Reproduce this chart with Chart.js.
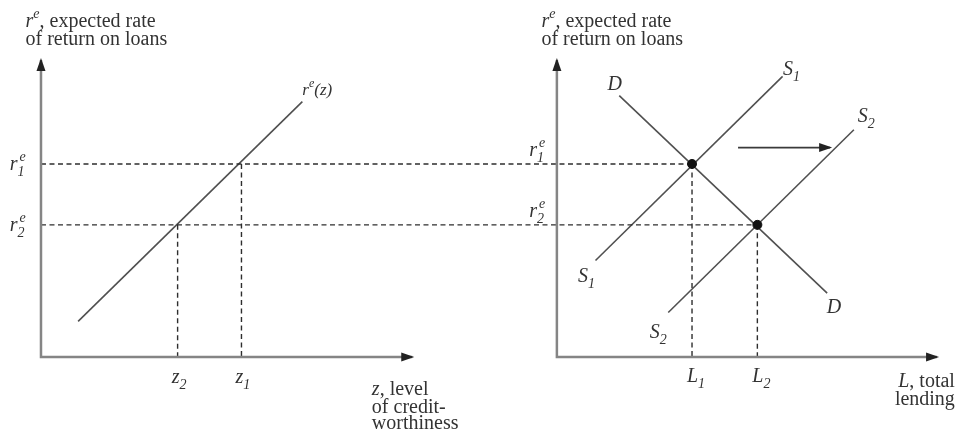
<!DOCTYPE html>
<html>
<head>
<meta charset="utf-8">
<script src="https://cdn.jsdelivr.net/npm/chart.js@4/dist/chart.umd.min.js"></script>
<style>
  html, body { margin: 0; padding: 0; background: #fff; }
</style>
</head>
<body>
<canvas id="diagram" width="962" height="436"></canvas>
<script>
// levels (diagram units, origin at each panel's corner)
const rLevels = [6.5, 4.45];   // r1e, r2e
const zLevels = [6.75, 4.6];   // z1, z2
const lLevels = [4.55, 6.75];  // L1, L2

// curve end points [x, y]
const reCurve = [[1.25, 1.2], [8.8, 8.6]];
const demandCurve = [[2.1, 8.8], [9.1, 2.15]];
const supply1Curve = [[1.3, 3.25], [7.6, 9.45]];
const supply2Curve = [[3.75, 1.5], [10.0, 7.65]];
const shiftArrow = [[6.1, 7.05], [9.2, 7.05]];

const axisTop = 10;
const leftAxisEnd = 12.5;
const rightAxisEnd = 12.8;

// second panel sits to the right on the same scale
const RIGHT_X = 17.37;

const AXIS = '#858585';
const CURVE = '#505050';
const DASH = '#2e2e2e';
const TEXT = '#333';

const L = (p) => ({ x: p[0], y: p[1] });
const R = (p) => ({ x: p[0] + RIGHT_X, y: p[1] });

function line(points, color, width, extra) {
    return Object.assign({
        data: points,
        borderColor: color,
        backgroundColor: color,
        borderWidth: width,
        showLine: true,
        pointRadius: 0,
        fill: false,
        tension: 0
    }, extra || {});
}

const datasets = [
    // axes
    line([{x: 0, y: axisTop}, {x: 0, y: 0}, {x: leftAxisEnd, y: 0}], AXIS, 2.5, {arrowStart: true, arrowEnd: true}),
    line([R([0, axisTop]), R([0, 0]), R([rightAxisEnd, 0])], AXIS, 2.5, {arrowStart: true, arrowEnd: true}),
    // dashed guides, running across both panels
    line([{x: 0, y: rLevels[0]}, R([lLevels[0], rLevels[0]])], DASH, 1.4, {borderDash: [5, 3.5]}),
    line([{x: 0, y: rLevels[1]}, R([lLevels[1], rLevels[1]])], DASH, 1.4, {borderDash: [5, 3.5]}),
    line([L([zLevels[0], rLevels[0]]), L([zLevels[0], 0])], DASH, 1.4, {borderDash: [5, 3.5]}),
    line([L([zLevels[1], rLevels[1]]), L([zLevels[1], 0])], DASH, 1.4, {borderDash: [5, 3.5]}),
    line([R([lLevels[0], rLevels[0]]), R([lLevels[0], 0])], DASH, 1.4, {borderDash: [5, 3.5]}),
    line([R([lLevels[1], rLevels[1]]), R([lLevels[1], 0])], DASH, 1.4, {borderDash: [5, 3.5]}),
    // curves
    line(reCurve.map(L), CURVE, 1.6),
    line(demandCurve.map(R), CURVE, 1.6),
    line(supply1Curve.map(R), CURVE, 1.6),
    line(supply2Curve.map(R), CURVE, 1.6),
    line(shiftArrow.map(R), '#3a3a3a', 1.8, {arrowEnd: true}),
    // equilibria
    {
        data: [R([lLevels[0], rLevels[0]]), R([lLevels[1], rLevels[1]])],
        showLine: false,
        pointRadius: 4.5,
        pointBackgroundColor: '#111',
        pointBorderColor: '#111',
        order: -1
    }
];

function font(size, italic) {
    return (italic ? 'italic ' : '') + size + 'px "Liberation Serif", "DejaVu Serif", serif';
}

// runs: {t, it, sub, sup, over}
function drawRich(ctx, x, y, runs, size, align) {
    const parts = [];
    let cursor = 0, total = 0, prevStart = 0;
    runs.forEach(r => {
        const sz = (r.sub || r.sup) ? Math.round(size * 0.68) : size;
        ctx.font = font(sz, r.it);
        const w = ctx.measureText(r.t).width;
        const start = r.over ? prevStart + 2 : cursor;
        const dy = r.sub ? size * 0.3 : (r.sup ? -size * 0.45 : 0);
        parts.push({t: r.t, f: ctx.font, x: start, dy: dy});
        prevStart = start;
        cursor = Math.max(cursor, start + w);
        total = cursor;
    });
    const x0 = align === 'right' ? x - total : (align === 'center' ? x - total / 2 : x);
    ctx.fillStyle = TEXT;
    ctx.textBaseline = 'alphabetic';
    ctx.textAlign = 'left';
    parts.forEach(p => {
        ctx.font = p.f;
        ctx.fillText(p.t, x0 + p.x, y + p.dy);
    });
}

const arrowHeads = {
    id: 'arrowHeads',
    afterDatasetsDraw(chart) {
        const ctx = chart.ctx;
        chart.data.datasets.forEach((ds, i) => {
            const pts = chart.getDatasetMeta(i).data;
            const head = (a, b) => {
                const ang = Math.atan2(b.y - a.y, b.x - a.x);
                const len = 11, half = 4.5;
                ctx.save();
                ctx.translate(b.x, b.y);
                ctx.rotate(ang);
                ctx.beginPath();
                ctx.moveTo(2, 0);
                ctx.lineTo(-len, -half);
                ctx.lineTo(-len, half);
                ctx.closePath();
                ctx.fillStyle = '#222';
                ctx.fill();
                ctx.restore();
            };
            if (ds.arrowEnd) head(pts[pts.length - 2], pts[pts.length - 1]);
            if (ds.arrowStart) head(pts[1], pts[0]);
        });
    }
};

const labels = {
    id: 'labels',
    afterDraw(chart) {
        const ctx = chart.ctx;
        const xs = chart.scales.x, ys = chart.scales.y;
        const px = (v) => xs.getPixelForValue(v);
        const py = (v) => ys.getPixelForValue(v);
        const put = (x, y, runs, size, align) => drawRich(ctx, px(x), py(y), runs, size, align);
        const subs = ['1', '2'];

        // axis titles
        [0, RIGHT_X].forEach(off => {
            put(off - 0.52, 11.11, [{t: 'r', it: true}, {t: 'e', sup: true, it: true}, {t: ', expected rate'}], 20);
            put(off - 0.52, 10.5, [{t: 'of return on loans'}], 20);
        });

        // left panel
        rLevels.forEach((r, i) => {
            put(-1.05, r - 0.2, [{t: 'r', it: true}, {t: subs[i], sub: true, it: true}, {t: 'e', sup: true, it: true, over: true}], 20);
            put(RIGHT_X - 0.93, r + 0.27, [{t: 'r', it: true}, {t: subs[i], sub: true, it: true}, {t: 'e', sup: true, it: true, over: true}], 20);
        });
        zLevels.forEach((z, i) => {
            put(z - 0.2, -0.88, [{t: 'z', it: true}, {t: subs[i], sub: true, it: true}], 20);
        });
        lLevels.forEach((l, i) => {
            put(RIGHT_X + l - 0.17, -0.84, [{t: 'L', it: true}, {t: subs[i], sub: true, it: true}], 20);
        });
        put(11.14, -1.28, [{t: 'z', it: true}, {t: ', level'}], 20);
        put(11.14, -1.87, [{t: 'of credit-'}], 20);
        put(11.14, -2.44, [{t: 'worthiness'}], 20);
        put(8.8, 8.82, [{t: 'r', it: true}, {t: 'e', sup: true, it: true}, {t: '(z)', it: true}], 17);

        // right panel
        put(RIGHT_X + 13.4, -1.01, [{t: 'L', it: true}, {t: ', total'}], 20, 'right');
        put(RIGHT_X + 13.4, -1.62, [{t: 'lending'}], 20, 'right');
        put(RIGHT_X + 1.95, 8.99, [{t: 'D', it: true}], 20, 'center');
        put(RIGHT_X + 9.33, 1.48, [{t: 'D', it: true}], 20, 'center');
        put(RIGHT_X + 7.61, 9.49, [{t: 'S', it: true}, {t: '1', sub: true, it: true}], 20);
        put(RIGHT_X + 0.71, 2.53, [{t: 'S', it: true}, {t: '1', sub: true, it: true}], 20);
        put(RIGHT_X + 10.13, 7.91, [{t: 'S', it: true}, {t: '2', sub: true, it: true}], 20);
        put(RIGHT_X + 3.13, 0.64, [{t: 'S', it: true}, {t: '2', sub: true, it: true}], 20);
    }
};

const ctx = document.getElementById('diagram').getContext('2d');
const chart = new Chart(ctx, {
    type: 'scatter',
    data: { datasets: datasets },
    options: {
        responsive: false,
        animation: false,
        layout: { padding: 0, autoPadding: false },
        plugins: {
            legend: { display: false },
            tooltip: { enabled: false }
        },
        scales: {
            x: { type: 'linear', min: -1.38, max: 31.01, display: false },
            y: { type: 'linear', min: -2.66, max: 12.02, display: false }
        }
    },
    plugins: [arrowHeads, labels]
});
</script>
</body>
</html>
